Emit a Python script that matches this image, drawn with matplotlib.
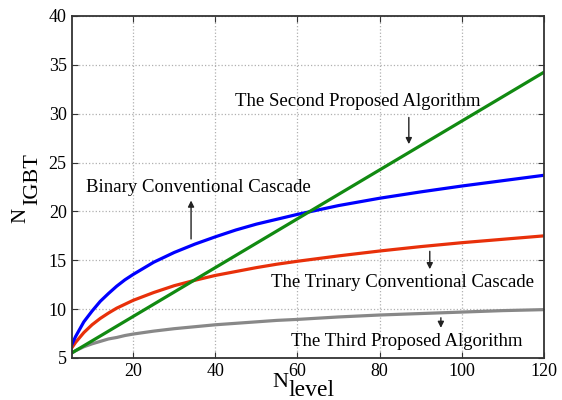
import matplotlib
matplotlib.use('Agg')
import matplotlib.pyplot as plt

plt.rcParams['font.family'] = ['Liberation Serif', 'DejaVu Serif']

# Werte
n_level = [5, 6, 8, 10, 12, 14, 16, 18, 20, 25, 30, 35, 40, 45, 50, 55, 60, 70, 80, 90, 100, 110, 120]
binary = [6.3, 7.2, 8.7, 9.8, 10.8, 11.6, 12.35, 13.0, 13.55, 14.8, 15.8, 16.65, 17.4, 18.1,
          18.7, 19.2, 19.7, 20.6, 21.35, 22.0, 22.6, 23.15, 23.7]
trinary = [6.0, 6.6, 7.6, 8.4, 9.05, 9.6, 10.1, 10.5, 10.9, 11.7, 12.4, 12.95, 13.45, 13.85,
           14.25, 14.6, 14.9, 15.45, 15.95, 16.4, 16.8, 17.15, 17.5]
third = [5.5, 5.75, 6.15, 6.45, 6.7, 6.95, 7.1, 7.3, 7.45, 7.75, 8.0, 8.2, 8.4, 8.55,
         8.7, 8.85, 8.95, 9.2, 9.4, 9.55, 9.7, 9.85, 9.95]
second_x = [5, 40, 80, 120]
second = [5.5, 14.25, 24.25, 34.25]

W, H = 562, 400
fig = plt.figure(figsize=(W / 100, H / 100), dpi=100)
ax = fig.add_axes([71.5 / W, 1 - 358 / H, (544 - 71.5) / W, (358 - 16) / H])

lw = 2.3
ax.plot(n_level, third, color='#888888', lw=lw)
ax.plot(n_level, trinary, color='#e8300a', lw=lw)
ax.plot(n_level, binary, color='#0000ff', lw=lw)
ax.plot(second_x, second, color='#118a11', lw=lw)

ax.set_xlim(5, 120)
ax.set_ylim(5, 40)
ax.set_xticks([20, 40, 60, 80, 100, 120])
ax.set_yticks(range(5, 41, 5))
ax.grid(True, linestyle=':', color='#b0b0b0', lw=0.9)
ax.tick_params(direction='in', top=True, right=True, length=4, labelsize=13, color='#333333')
for s in ax.spines.values():
    s.set_color('#333333')
    s.set_linewidth(1.3)

arrow = dict(arrowstyle='-|>', color='#222222', lw=1.0, mutation_scale=9)
fs = 13.5
ax.text(74.6, 31.2, 'The Second Proposed Algorithm', ha='center', va='center', fontsize=fs)
ax.annotate('', xy=(87.1, 26.6), xytext=(87.1, 29.9), arrowprops=arrow)
ax.text(35.9, 22.4, 'Binary Conventional Cascade', ha='center', va='center', fontsize=fs)
ax.annotate('', xy=(34.1, 21.4), xytext=(34.1, 16.9), arrowprops=arrow)
ax.text(85.6, 12.7, 'The Trinary Conventional Cascade', ha='center', va='center', fontsize=fs)
ax.annotate('', xy=(92.2, 13.8), xytext=(92.2, 16.2), arrowprops=arrow)
ax.text(86.6, 6.7, 'The Third Proposed Algorithm', ha='center', va='center', fontsize=fs)
ax.annotate('', xy=(94.9, 7.8), xytext=(94.9, 9.4), arrowprops=arrow)

# Achsenbeschriftungen mit grossem Index
fig.text(272 / W, 1 - 387 / H, 'N', fontsize=16, ha='left', va='baseline')
fig.text(288 / W, 1 - 396 / H, 'level', fontsize=17, ha='left', va='baseline')
fig.text(25 / W, 1 - 223 / H, 'N', fontsize=15, rotation=90, rotation_mode='anchor',
         ha='left', va='baseline')
fig.text(37 / W, 1 - 205 / H, 'IGBT', fontsize=16, rotation=90, rotation_mode='anchor',
         ha='left', va='baseline')

fig.savefig('out.png', dpi=100)
